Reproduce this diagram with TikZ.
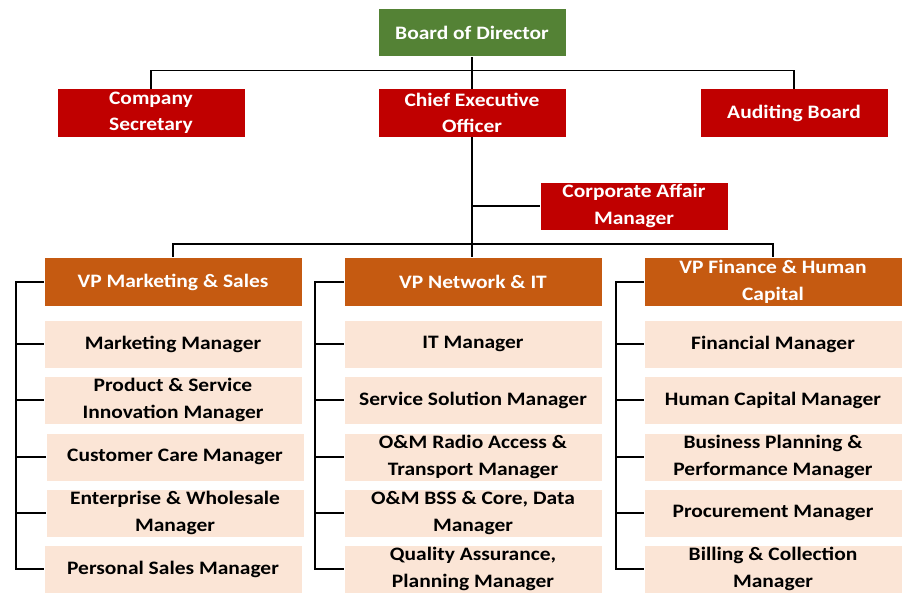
\documentclass[tikz,border=0pt]{standalone}
\usepackage{fontspec}
\setmainfont{Carlito}[FakeStretch=1.13]
\definecolor{boardgreen}{HTML}{548235}
\definecolor{execred}{HTML}{C00000}
\definecolor{vporange}{HTML}{C55A11}
\definecolor{staffpeach}{HTML}{FBE5D6}
\begin{document}
\begin{tikzpicture}[x=1pt,y=-1pt,line width=1.8pt,
	orgbox/.style={inner sep=0pt,align=center,font=\fontsize{19}{26.5}\selectfont\bfseries,execute at begin node={\vspace*{4pt}}},
	board/.style={orgbox,fill=boardgreen,text=white,minimum width=187pt,minimum height=47pt},
	exec/.style={orgbox,fill=execred,text=white,minimum width=187pt,minimum height=47pt},
	vp/.style={orgbox,fill=vporange,text=white,minimum width=257pt,minimum height=48pt},
	staff/.style={orgbox,fill=staffpeach,text=black,minimum width=257pt,minimum height=47pt}]
		\useasboundingbox (0,0) rectangle (908,594);
		% top level
		\node[board] (bod) at (472,33) {Board of Director};
		\node[exec] (cs) at (151,113) {Company\\Secretary};
		\node[exec] (ceo) at (472,113) {Chief Executive\\Officer};
		\node[exec] (audit) at (794,113) {Auditing Board};
		\node[exec] (caf) at (634,206) {Corporate Affair\\Manager};
		% vice presidents
		\node[vp] (vpm) at (173,282) {VP Marketing \& Sales};
		\node[vp] (vpn) at (473,282) {VP Network \& IT};
		\node[vp] (vpf) at (773,282) {VP Finance \& Human\\Capital};
		% marketing & sales
		\node[staff] (m1) at (173,344) {Marketing Manager};
		\node[staff] (m2) at (173,400) {Product \& Service\\Innovation Manager};
		\node[staff] (m3) at (175,457) {Customer Care Manager};
		\node[staff] (m4) at (175,513) {Enterprise \& Wholesale\\Manager};
		\node[staff] (m5) at (173,569) {Personal Sales Manager};
		% network & it
		\node[staff] (n1) at (473,344) {IT Manager};
		\node[staff] (n2) at (473,400) {Service Solution Manager};
		\node[staff] (n3) at (473,457) {O\&M Radio Access \&\\Transport Manager};
		\node[staff] (n4) at (473,513) {O\&M BSS \& Core, Data\\Manager};
		\node[staff] (n5) at (473,569) {Quality Assurance,\\Planning Manager};
		% finance & human capital
		\node[staff] (f1) at (773,344) {Financial Manager};
		\node[staff] (f2) at (773,400) {Human Capital Manager};
		\node[staff] (f3) at (773,457) {Business Planning \&\\Performance Manager};
		\node[staff] (f4) at (773,513) {Procurement Manager};
		\node[staff] (f5) at (773,569) {Billing \& Collection\\Manager};
		% connectors
		\draw (bod.south) -- (ceo.north);
		\draw (cs.north) -- ++(0,-18) -| (audit.north);
		\draw (ceo.south) -- (ceo.south |- vpn.north);
		\draw (caf.west) -- (caf.west -| ceo.south);
		\draw (vpm.north) -- ++(0,-13) -| (vpf.north);
		\draw (vpm.west) -- ++(-28,0) |- (m5.west);
		\draw (vpn.west) -- ++(-29,0) |- (n5.west);
		\draw (vpf.west) -- ++(-28,0) |- (f5.west);
		\foreach \i in {1,...,4} {
			\draw (m\i.west) -- (m\i.west -| vpm.west) -- ++(-28,0);
			\draw (n\i.west) -- ++(-29,0);
			\draw (f\i.west) -- ++(-28,0);
		}
\end{tikzpicture}
\end{document}
